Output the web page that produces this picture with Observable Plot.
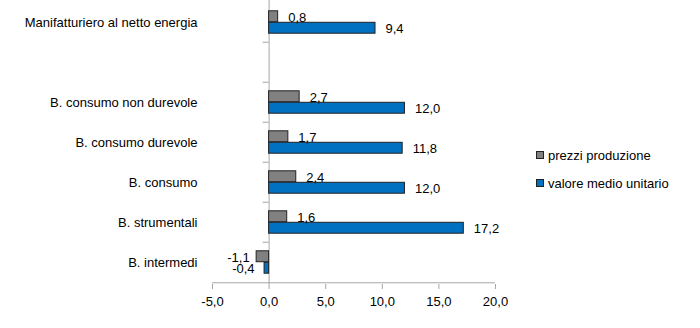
<!DOCTYPE html>
<html>
<head>
<meta charset="utf-8">
<script src="https://cdn.jsdelivr.net/npm/d3@7"></script>
<script src="https://cdn.jsdelivr.net/npm/@observablehq/plot@0.6"></script>
<style>
  body { margin: 0; background: #fff; font-family: "Liberation Sans", Arial, sans-serif; }
  #wrap { position: relative; width: 700px; height: 328px; }
  #legend { position: absolute; left: 536px; top: 147px; font-size: 13px; color: #000; }
  .item { display: flex; align-items: center; height: 16px; margin-bottom: 12px; }
  .sw { width: 6px; height: 6px; border: 1px solid #222; margin-right: 4px; }
</style>
</head>
<body>
<div id="wrap"><div id="legend"></div></div>
<script>
const categories = ["Manifatturiero al netto energia", " ", "B. consumo non durevole", "B. consumo durevole", "B. consumo", "B. strumentali", "B. intermedi"];
const seriesNames = ["prezzi produzione", "valore medio unitario"];
const prezziProduzione = [0.8, null, 2.7, 1.7, 2.4, 1.6, -1.1];
const valoreMedioUnitario = [9.4, null, 12.0, 11.8, 12.0, 17.2, -0.4];
const xTicks = [-5, 0, 5, 10, 15, 20];
const colors = ["#808080", "#0070c0"];

const fmt = v => v.toFixed(1).replace(".", ",");

const rows = [];
categories.forEach((c, i) => {
  if (prezziProduzione[i] != null) rows.push({cat: c, series: seriesNames[0], value: prezziProduzione[i]});
  if (valoreMedioUnitario[i] != null) rows.push({cat: c, series: seriesNames[1], value: valoreMedioUnitario[i]});
});

const W = 700, H = 328, mT = 0, mB = 44, mL = 212, mR = 205;
const bw = (H - mT - mB) / categories.length;
const barH = 11.5;
const axisColor = "#a6a6a6";

const grey = rows.filter(d => d.series === seriesNames[0]);
const blue = rows.filter(d => d.series === seriesNames[1]);

const chart = Plot.plot({
  width: W, height: H,
  marginTop: mT, marginBottom: mB, marginLeft: mL, marginRight: mR,
  style: {fontFamily: '"Liberation Sans", Arial, sans-serif', fontSize: "13px", color: "#000", background: "#fff"},
  x: {domain: [-5, 20], label: null},
  y: {domain: categories, padding: 0, label: null},
  marks: [
    Plot.ruleY([categories[categories.length - 1]], {dy: bw / 2, stroke: axisColor}),
    Plot.ruleX([0], {stroke: axisColor}),
    Plot.ruleY(categories.slice(1), {x1: 0, x2: 0, insetLeft: -6, dy: -bw / 2, stroke: axisColor}),
    Plot.axisX({ticks: xTicks, tickFormat: fmt, tickSize: 5, tickPadding: 7, stroke: axisColor, fill: "#000", label: null}),
    Plot.axisY({tickSize: 0, tickPadding: 15, fill: "#000", label: null}),
    Plot.barX(grey, {y: "cat", x1: 0, x2: "value", fill: colors[0], stroke: "#222", strokeWidth: 1,
      insetTop: bw / 2 - barH, insetBottom: bw / 2}),
    Plot.barX(blue, {y: "cat", x1: 0, x2: "value", fill: colors[1], stroke: "#222", strokeWidth: 1,
      insetTop: bw / 2, insetBottom: bw / 2 - barH}),
    Plot.text(grey.filter(d => d.value >= 0), {y: "cat", x: "value", text: d => fmt(d.value), textAnchor: "start", dx: 10, dy: -5, fill: "#000"}),
    Plot.text(grey.filter(d => d.value < 0), {y: "cat", x: "value", text: d => fmt(d.value), textAnchor: "end", dx: -7, dy: -5, fill: "#000"}),
    Plot.text(blue.filter(d => d.value >= 0), {y: "cat", x: "value", text: d => fmt(d.value), textAnchor: "start", dx: 10, dy: 6, fill: "#000"}),
    Plot.text(blue.filter(d => d.value < 0), {y: "cat", x: "value", text: d => fmt(d.value), textAnchor: "end", dx: -10, dy: 6, fill: "#000"})
  ]
});

document.getElementById("wrap").prepend(chart);

const legend = document.getElementById("legend");
seriesNames.forEach((name, i) => {
  const item = document.createElement("div");
  item.className = "item";
  const sw = document.createElement("span");
  sw.className = "sw";
  sw.style.background = colors[i];
  const label = document.createElement("span");
  label.textContent = name;
  item.append(sw, label);
  legend.append(item);
});
</script>
</body>
</html>
